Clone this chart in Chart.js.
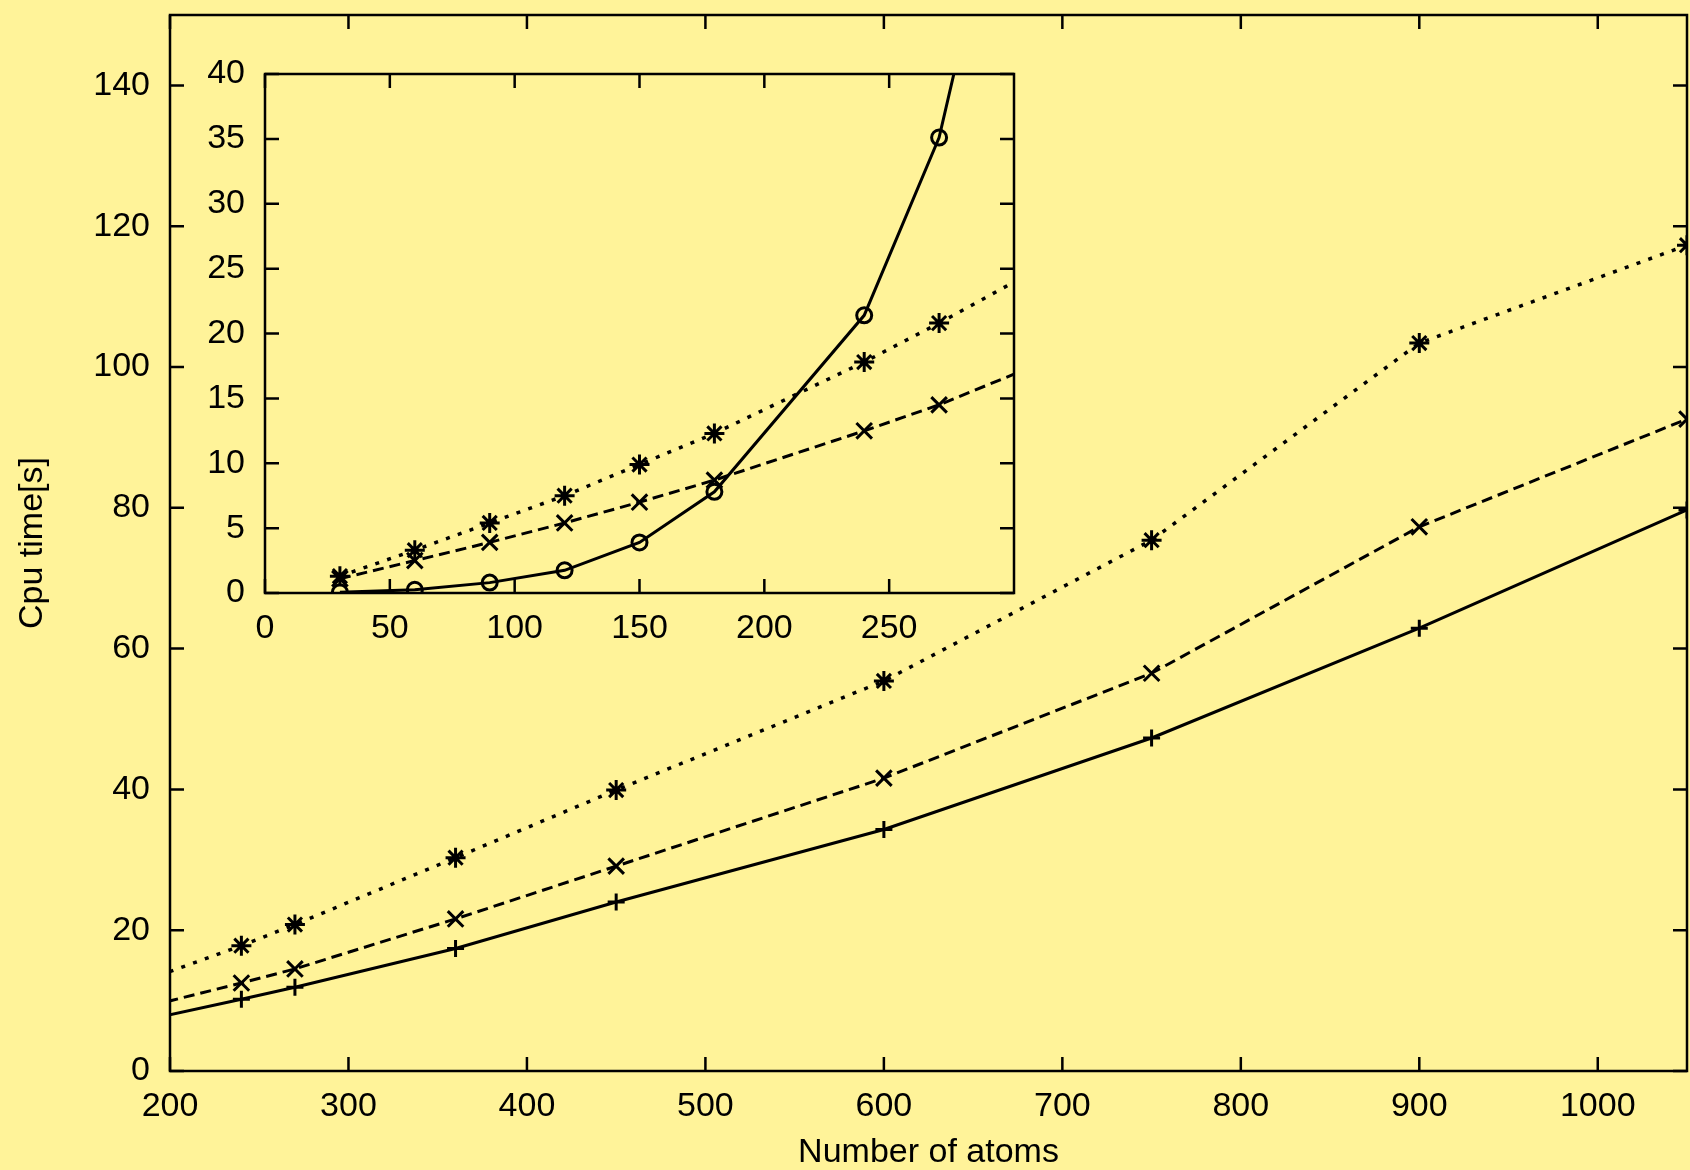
<!DOCTYPE html>
<html>
<head>
<meta charset="utf-8">
<title>Cpu time vs number of atoms</title>
<script src="https://cdn.jsdelivr.net/npm/chart.js@4.4.1/dist/chart.umd.min.js"></script>
<style>
  html, body { margin: 0; padding: 0; background: #fff399; overflow: hidden; }
  #wrap { position: relative; width: 1690px; height: 1170px; overflow: hidden; }
  canvas { position: absolute; }
  #mainChart { left: 0; top: 0; }
  #insetChart { left: 100px; top: 40px; }
</style>
</head>
<body>
<div id="wrap">
  <canvas id="mainChart" width="1701" height="1170"></canvas>
  <canvas id="insetChart" width="940" height="620"></canvas>
</div>
<script>
// x values (number of atoms) shared by the two lower-order methods
const atoms = [30, 60, 90, 120, 150, 180, 240, 270, 360, 450, 600, 750, 900, 1050];
// dotted line, asterisk markers
const cpuStar = [1.3, 3.3, 5.4, 7.5, 9.9, 12.3, 17.8, 20.8, 30.3, 39.9, 55.4, 75.4, 103.4, 117.3];
// dashed line, x markers
const cpuCross = [1.1, 2.5, 3.9, 5.4, 7.0, 8.7, 12.5, 14.5, 21.6, 29.1, 41.6, 56.5, 77.3, 92.6];

// solid line with + markers (main plot only)
const atomsPlus = [180, 240, 270, 360, 450, 600, 750, 900, 1050];
const cpuPlus = [6.9, 10.2, 11.9, 17.4, 24.0, 34.3, 47.3, 62.9, 79.7];

// solid line with circles (inset only)
const atomsCircle = [30, 60, 90, 120, 150, 180, 240, 270, 300];
const cpuCircle = [0.05, 0.25, 0.8, 1.75, 3.9, 7.8, 21.4, 35.1, 60];

// axis ranges: [min, max, step, last labelled tick]
const mainX = [200, 1050, 100, 1000];
const mainY = [0, 150, 20, 140];
const insetX = [0, 300, 50, 250];
const insetY = [0, 40, 5, 40];

Chart.defaults.font.family = "'Liberation Sans', Arial, Helvetica, sans-serif";
Chart.defaults.font.size = 34;
Chart.defaults.color = '#000';

function points(xs, ys) {
    return xs.map((x, i) => ({ x: x, y: ys[i] }));
}

// gnuplot style border with inward ticks on all four sides
const frameTicks = {
    id: 'frameTicks',
    afterDatasetsDraw(chart) {
        const { ctx, chartArea: a, scales: { x, y } } = chart;
        const len = 14;
        ctx.save();
        ctx.strokeStyle = '#000';
        ctx.lineWidth = 2.5;
        ctx.beginPath();
        x.ticks.forEach(t => {
            const px = x.getPixelForValue(t.value);
            ctx.moveTo(px, a.bottom); ctx.lineTo(px, a.bottom - len);
            ctx.moveTo(px, a.top); ctx.lineTo(px, a.top + len);
        });
        y.ticks.forEach(t => {
            const py = y.getPixelForValue(t.value);
            ctx.moveTo(a.left, py); ctx.lineTo(a.left + len, py);
            ctx.moveTo(a.right, py); ctx.lineTo(a.right - len, py);
        });
        ctx.stroke();
        ctx.strokeRect(a.left, a.top, a.right - a.left, a.bottom - a.top);
        ctx.restore();
    }
};

const solid = { borderColor: '#000', borderWidth: 3, fill: false, tension: 0,
    pointBorderColor: '#000', pointBackgroundColor: 'rgba(0,0,0,0)', pointBorderWidth: 3 };

function dsPlus() {
    return Object.assign({}, solid, { data: points(atomsPlus, cpuPlus), pointStyle: 'cross', pointRadius: 8.5 });
}
function dsCircle() {
    return Object.assign({}, solid, { data: points(atomsCircle, cpuCircle), pointStyle: 'circle', pointRadius: 7.5 });
}
function dsCross() {
    return Object.assign({}, solid, { data: points(atoms, cpuCross), borderDash: [11, 6],
        pointStyle: 'crossRot', pointRadius: 11 });
}
function dsStar() {
    return Object.assign({}, solid, { data: points(atoms, cpuStar), borderDash: [4, 8.5], borderWidth: 3.5,
        pointStyle: 'star', pointRadius: 10 });
}

function axis(range, opts) {
    return Object.assign({
        type: 'linear',
        min: range[0],
        max: range[1],
        grid: { display: false, drawTicks: false },
        border: { display: false },
        ticks: { stepSize: range[2], padding: 18, autoSkip: false, maxRotation: 0,
            callback: v => String(v) },
        afterBuildTicks: s => {
            const ticks = [];
            for (let v = range[0]; v <= range[3] + 1e-9; v += range[2]) ticks.push({ value: v });
            s.ticks = ticks;
        }
    }, opts);
}

function makeChart(id, datasets, xOpts, yOpts, padding, yWidth, xHeight) {
    // fixed axis boxes, no label overhang padding, so the plot area is exact
    const noPad = s => { s.paddingTop = 0; s.paddingBottom = 0; s.paddingLeft = 0; s.paddingRight = 0; };
    const xs = Object.assign(xOpts, { afterFit: s => { s.height = xHeight; noPad(s); } });
    const ys = Object.assign(yOpts, { afterFit: s => { s.width = yWidth; noPad(s); } });
    return new Chart(document.getElementById(id), {
        type: 'line',
        data: { datasets: datasets },
        options: {
            responsive: false,
            animation: false,
            events: [],
            layout: { padding: padding },
            plugins: { legend: { display: false }, tooltip: { enabled: false } },
            scales: { x: xs, y: ys }
        },
        plugins: [frameTicks]
    });
}

// main plot
const mainXAxis = axis(mainX, {
    title: { display: true, text: 'Number of atoms', font: { size: 34, lineHeight: 1 }, padding: { top: 0, bottom: 0 } }
});
mainXAxis.ticks.padding = 15;
const mainYAxis = axis(mainY, {
    title: { display: true, text: 'Cpu time[s]', font: { size: 34, lineHeight: 1 }, padding: { top: 16, bottom: 0 } }
});
mainYAxis.ticks.padding = 20;
makeChart('mainChart', [dsPlus(), dsCross(), dsStar()], mainXAxis, mainYAxis,
    { top: 15, right: 3, left: 0, bottom: 0 }, 170, 99);

// inset: small systems
const insetXAxis = axis(insetX, {});
insetXAxis.ticks.padding = 15;
const insetYAxis = axis(insetY, {});
insetYAxis.ticks.padding = 20;
makeChart('insetChart', [dsCircle(), dsCross(), dsStar()], insetXAxis, insetYAxis,
    { top: 34, right: 26, left: 0, bottom: 0 }, 165, 67);
</script>
</body>
</html>
